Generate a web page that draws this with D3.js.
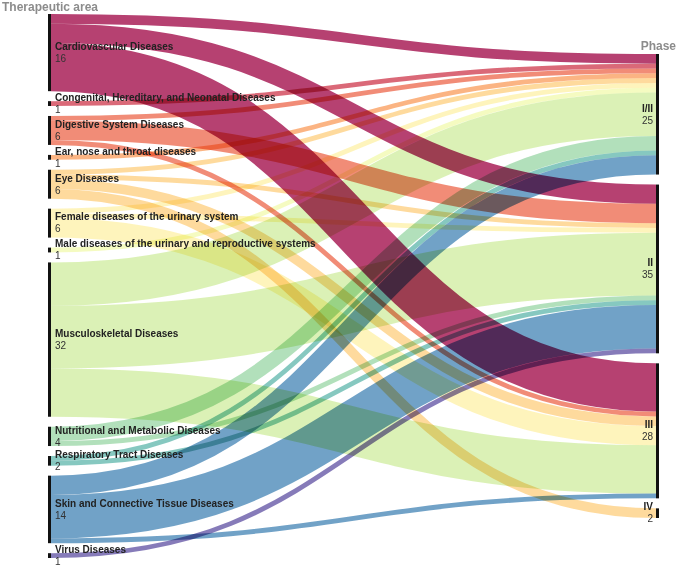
<!DOCTYPE html>
<html>
<head>
<meta charset="utf-8">
<style>
  body { margin: 0; background: #fff; }
  svg { display: block; font-family: "Liberation Sans", Arial, sans-serif; }
  .title { font-size: 12px; font-weight: bold; fill: #8c8c8c; }
  .label { font-size: 10px; fill: #222; }
  .label .name { font-weight: bold; }
</style>
</head>
<body>
<svg></svg>
<script src="https://cdn.jsdelivr.net/npm/d3@7/dist/d3.min.js"></script>
<script>
// therapeutic areas (left column) and phases (right column)
var areas = [
  'Cardiovascular Diseases',
  'Congenital, Hereditary, and Neonatal Diseases',
  'Digestive System Diseases',
  'Ear, nose and throat diseases',
  'Eye Diseases',
  'Female diseases of the urinary system',
  'Male diseases of the urinary and reproductive systems',
  'Musculoskeletal Diseases',
  'Nutritional and Metabolic Diseases',
  'Respiratory Tract Diseases',
  'Skin and Connective Tissue Diseases',
  'Virus Diseases'
];
var phases = ['I/II', 'II', 'III', 'IV'];

// number of studies per area, one array per phase (same order as areas)
var phaseI_II = [2, 1, 1, 1, 1, 1, 1, 9, 3, 1, 4, 0];
var phaseII   = [4, 0, 4, 0, 1, 1, 0, 13, 1, 1, 9, 1];
var phaseIII  = [10, 0, 1, 0, 2, 4, 0, 10, 0, 0, 1, 0];
var phaseIV   = [0, 0, 0, 0, 2, 0, 0, 0, 0, 0, 0, 0];
var byPhase = [phaseI_II, phaseII, phaseIII, phaseIV];

var width = 678,
  height = 568;

// column geometry
var colTop = 14,
  colBottom = 558,
  pad = 10,
  barWidth = 3,
  leftX = 48,
  rightX = 656;

var svg = d3.select('svg')
  .attr('width', width)
  .attr('height', height);

var color = d3.scaleOrdinal(areas, d3.quantize(d3.interpolateSpectral, areas.length));

// totals per node
var areaTotals = areas.map(function(a, i) {
  return d3.sum(byPhase, function(p) { return p[i]; });
});
var phaseTotals = byPhase.map(function(p) { return d3.sum(p); });
var total = d3.sum(areaTotals);

// value -> pixels, the left column fills the full height
var k = d3.scaleLinear()
  .domain([0, total])
  .range([0, (colBottom - colTop) - (areas.length - 1) * pad]);

// stack the nodes of one column
function stack(names, totals, x, offset) {
  var y = colTop + offset;
  return names.map(function(name, i) {
    var node = { name: name, value: totals[i], x0: x, x1: x + barWidth, y0: y, y1: y + k(totals[i]) };
    y = node.y1 + pad;
    return node;
  });
}

var leftNodes = stack(areas, areaTotals, leftX, 0);
var rightHeight = k(total) + (phases.length - 1) * pad;
var rightNodes = stack(phases, phaseTotals, rightX, ((colBottom - colTop) - rightHeight) / 2);

// links, ordered by target at the source and by source at the target
var links = [];
areas.forEach(function(a, i) {
  phases.forEach(function(p, j) {
    var v = byPhase[j][i];
    if (v > 0) links.push({ source: leftNodes[i], target: rightNodes[j], area: a, value: v, width: k(v) });
  });
});

leftNodes.forEach(function(n) {
  var y = n.y0;
  links.filter(function(l) { return l.source === n; }).forEach(function(l) {
    l.y0 = y + l.width / 2;
    y += l.width;
  });
});
rightNodes.forEach(function(n) {
  var y = n.y0;
  links.filter(function(l) { return l.target === n; }).forEach(function(l) {
    l.y1 = y + l.width / 2;
    y += l.width;
  });
});

var linkPath = d3.linkHorizontal();

svg.append('g')
    .attr('fill', 'none')
  .selectAll('path')
  .data(links)
  .join('path')
    .attr('d', function(d) {
      return linkPath({ source: [d.source.x1, d.y0], target: [d.target.x0, d.y1] });
    })
    .attr('stroke', function(d) { return color(d.area); })
    .attr('stroke-opacity', 0.75)
    .attr('stroke-width', function(d) { return d.width; })
    .style('mix-blend-mode', 'multiply');

// black node bars
svg.append('g')
  .selectAll('rect')
  .data(leftNodes.concat(rightNodes))
  .join('rect')
    .attr('x', function(d) { return d.x0; })
    .attr('y', function(d) { return d.y0; })
    .attr('width', barWidth)
    .attr('height', function(d) { return d.y1 - d.y0; })
    .attr('fill', '#111');

// labels: name in bold with the count underneath
function labels(nodes, x, anchor) {
  var text = svg.append('g')
    .selectAll('text')
    .data(nodes)
    .join('text')
      .attr('class', 'label')
      .attr('x', x)
      .attr('y', function(d) { return (d.y0 + d.y1) / 2; })
      .attr('text-anchor', anchor);
  text.append('tspan')
    .attr('class', 'name')
    .attr('dy', '-0.27em')
    .text(function(d) { return d.name; });
  text.append('tspan')
    .attr('x', x)
    .attr('dy', '1.2em')
    .attr('fill', '#333')
    .text(function(d) { return d.value; });
}
labels(leftNodes, leftX + barWidth + 4, 'start');
labels(rightNodes, rightX - 3, 'end');

// column titles
svg.append('text')
  .attr('class', 'title')
  .attr('x', 2)
  .attr('y', 10.5)
  .text('Therapeutic area');

svg.append('text')
  .attr('class', 'title')
  .attr('x', 676)
  .attr('y', 50)
  .attr('text-anchor', 'end')
  .text('Phase');
</script>
</body>
</html>
